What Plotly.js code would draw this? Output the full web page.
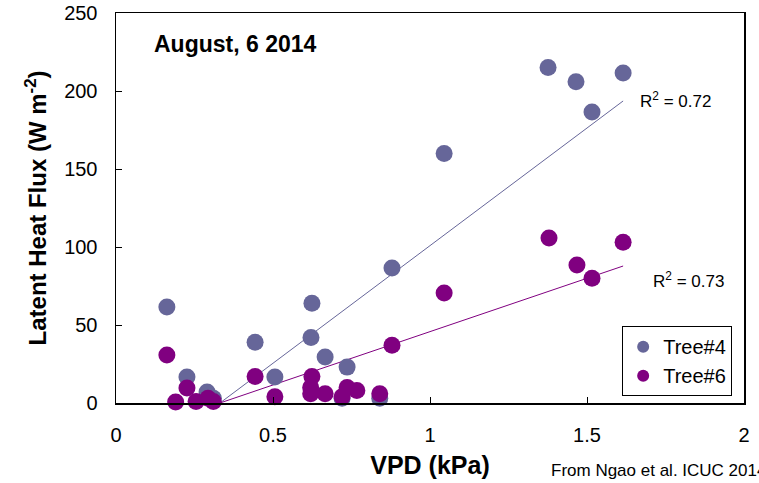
<!DOCTYPE html>
<html>
<head>
<meta charset="utf-8">
<script src="https://cdn.plot.ly/plotly-3.0.1.min.js"></script>
<style>html,body{margin:0;padding:0;background:#fff;}#chart{width:759px;height:483px;}</style>
</head>
<body>
<div id="chart"></div>
<script>
// Tree#4 data (VPD kPa, Latent heat flux W m-2)
var tree4X = [0.162, 0.226, 0.29, 0.31, 0.443, 0.506, 0.624, 0.621, 0.666, 0.736, 0.72, 0.84, 0.879, 1.045, 1.376, 1.465, 1.516, 1.615];
var tree4Y = [61.5, 16.7, 7, 3, 39, 16.7, 64, 42, 29.5, 23, 3, 3, 86.5, 160, 215, 206, 186.5, 211.5];
// Tree#6 data
var tree6X = [0.162, 0.19, 0.226, 0.255, 0.293, 0.31, 0.443, 0.506, 0.624, 0.62, 0.62, 0.666, 0.72, 0.736, 0.767, 0.84, 0.879, 1.045, 1.379, 1.468, 1.516, 1.615];
var tree6Y = [30.8, 0.6, 9.6, 1, 3, 1, 17, 4, 17, 10, 6, 6, 4, 10, 8, 6, 37, 70.5, 105.8, 88.5, 80, 103];
// Trendlines (as drawn in the source, clipped at y = 0)
var trend4X = [0.331, 1.615];
var trend4Y = [0, 193.6];
var trend6X = [0.331, 1.615];
var trend6Y = [0, 87.8];
var r2Labels = ['R<sup>2</sup> = 0.72', 'R<sup>2</sup> = 0.73'];
var seriesNames = ['Tree#4', 'Tree#6'];

var col4 = '#666699', col6 = '#800080';
var font = 'Liberation Sans, Arial, sans-serif';

var traces = [
  {x: trend4X, y: trend4Y, mode: 'lines', line: {color: col4, width: 1}, showlegend: false, hoverinfo: 'skip'},
  {x: trend6X, y: trend6Y, mode: 'lines', line: {color: col6, width: 1}, showlegend: false, hoverinfo: 'skip'},
  {x: tree4X, y: tree4Y, mode: 'markers', name: seriesNames[0], marker: {color: col4, size: 17}, cliponaxis: false},
  {x: tree6X, y: tree6Y, mode: 'markers', name: seriesNames[1], marker: {color: col6, size: 17}, cliponaxis: false}
];

var layout = {
  width: 759, height: 483,
  margin: {l: 116, r: 15, t: 13, b: 80},
  paper_bgcolor: '#fff', plot_bgcolor: '#fff',
  font: {family: font, color: '#000'},
  showlegend: true,
  legend: {x: 0.806, y: 0.197, xanchor: 'left', yanchor: 'top', bordercolor: '#000', borderwidth: 1,
           font: {size: 20, family: font}, bgcolor: '#fff', itemsizing: 'constant', tracegroupgap: 0,
           itemwidth: 30},
  xaxis: {
    range: [0, 2], dtick: 0.5, tick0: 0, showgrid: false, zeroline: false,
    showline: true, linecolor: '#000', linewidth: 1.5, mirror: true,
    ticks: 'inside', ticklen: 6, tickcolor: '#000', tickwidth: 1,
    tickfont: {size: 20, family: font}, ticklabelstandoff: 13,
    title: {text: '<b>VPD (kPa)</b>', font: {size: 25, family: font}, standoff: 12}
  },
  yaxis: {
    range: [0, 250], dtick: 50, tick0: 0, showgrid: false, zeroline: false,
    showline: true, linecolor: '#000', linewidth: 1.5, mirror: true,
    ticks: 'inside', ticklen: 6, tickcolor: '#000', tickwidth: 1,
    tickfont: {size: 20, family: font}, ticklabelstandoff: 13,
    title: {text: '<b>Latent Heat Flux (W m<sup>-2</sup>)</b>', font: {size: 24, family: font}, standoff: 10}
  },
  annotations: [
    {xref: 'paper', yref: 'paper', x: 0.057, y: 0.9205, xanchor: 'left', yanchor: 'middle', showarrow: false,
     text: '<b>August, 6 2014</b>', font: {size: 23, family: font, color: '#000'}},
    {xref: 'paper', yref: 'paper', x: 0.832, y: 0.777, xanchor: 'left', yanchor: 'middle', showarrow: false,
     text: r2Labels[0], font: {size: 17, family: font, color: '#000'}},
    {xref: 'paper', yref: 'paper', x: 0.852, y: 0.315, xanchor: 'left', yanchor: 'middle', showarrow: false,
     text: r2Labels[1], font: {size: 17, family: font, color: '#000'}},
    {xref: 'paper', yref: 'paper', x: 0.689, y: -0.172, xanchor: 'left', yanchor: 'middle', showarrow: false,
     text: 'From Ngao et al. ICUC 2014', font: {size: 17, family: font, color: '#000'}}
  ]
};

Plotly.newPlot('chart', traces, layout, {staticPlot: true, displayModeBar: false});
</script>
</body>
</html>
